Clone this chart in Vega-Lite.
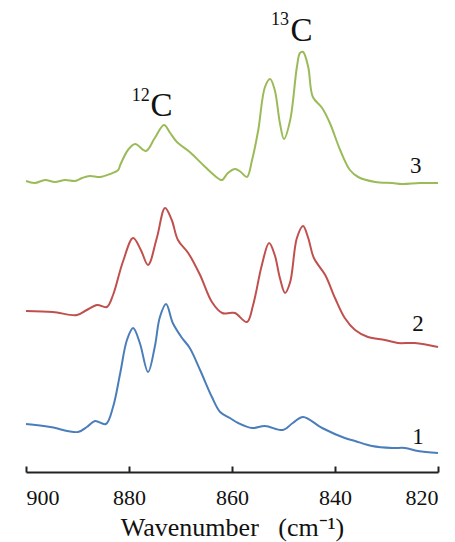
{
  "$schema": "https://vega.github.io/schema/vega-lite/v6.json",
  "width": 412,
  "height": 472,
  "autosize": {"type": "none"},
  "padding": {"left": 26, "top": 0, "right": 17, "bottom": 70},
  "background": "white",
  "config": {
    "view": {"stroke": null},
    "font": "Liberation Serif, Times New Roman, serif",
    "axis": {"labelFont": "Liberation Serif, Times New Roman, serif", "titleFont": "Liberation Serif, Times New Roman, serif"},
    "axisX": {"labelFont": "Liberation Serif, Times New Roman, serif", "titleFont": "Liberation Serif, Times New Roman, serif"},
    "text": {"font": "Liberation Serif"}
  },
  "datasets": {
    "spectra": [
      {"wn": 900, "a": 291, "s": "3"}, {"wn": 898.3, "a": 289, "s": "3"}, {"wn": 896.3, "a": 292, "s": "3"}, {"wn": 894.4, "a": 290, "s": "3"}, {"wn": 892.4, "a": 292, "s": "3"}, {"wn": 890.5, "a": 291, "s": "3"}, {"wn": 889.1, "a": 294, "s": "3"}, {"wn": 887.6, "a": 296, "s": "3"}, {"wn": 885.6, "a": 295, "s": "3"}, {"wn": 883.7, "a": 298, "s": "3"}, {"wn": 882.1, "a": 302, "s": "3"}, {"wn": 881.7, "a": 307, "s": "3"}, {"wn": 880.2, "a": 322, "s": "3"}, {"wn": 878.8, "a": 328, "s": "3"}, {"wn": 876.7, "a": 321, "s": "3"}, {"wn": 875.0, "a": 334, "s": "3"}, {"wn": 873.2, "a": 347, "s": "3"}, {"wn": 872.0, "a": 339, "s": "3"}, {"wn": 870.7, "a": 330, "s": "3"}, {"wn": 868.2, "a": 320, "s": "3"}, {"wn": 865.2, "a": 305, "s": "3"}, {"wn": 862.5, "a": 293, "s": "3"}, {"wn": 861.9, "a": 292, "s": "3"}, {"wn": 860.8, "a": 299, "s": "3"}, {"wn": 859.4, "a": 303, "s": "3"}, {"wn": 858.3, "a": 300, "s": "3"}, {"wn": 857.1, "a": 295, "s": "3"}, {"wn": 856.1, "a": 312, "s": "3"}, {"wn": 854.9, "a": 342, "s": "3"}, {"wn": 853.6, "a": 385, "s": "3"}, {"wn": 852.6, "a": 393, "s": "3"}, {"wn": 851.7, "a": 382, "s": "3"}, {"wn": 850.7, "a": 349, "s": "3"}, {"wn": 849.9, "a": 333, "s": "3"}, {"wn": 848.7, "a": 352, "s": "3"}, {"wn": 847.4, "a": 405, "s": "3"}, {"wn": 846.8, "a": 419, "s": "3"}, {"wn": 846.2, "a": 420, "s": "3"}, {"wn": 845.2, "a": 405, "s": "3"}, {"wn": 844.3, "a": 375, "s": "3"}, {"wn": 842.5, "a": 364, "s": "3"}, {"wn": 841.0, "a": 349, "s": "3"}, {"wn": 839.0, "a": 322, "s": "3"}, {"wn": 837.1, "a": 302, "s": "3"}, {"wn": 835.5, "a": 295, "s": "3"}, {"wn": 832.2, "a": 290, "s": "3"}, {"wn": 828.9, "a": 289, "s": "3"}, {"wn": 827.0, "a": 288, "s": "3"}, {"wn": 823.5, "a": 289, "s": "3"}, {"wn": 820, "a": 289, "s": "3"},

      {"wn": 900, "a": 161, "s": "2"}, {"wn": 894.8, "a": 160, "s": "2"}, {"wn": 890.1, "a": 157, "s": "2"}, {"wn": 888.2, "a": 162, "s": "2"}, {"wn": 886.2, "a": 167, "s": "2"}, {"wn": 884.3, "a": 165, "s": "2"}, {"wn": 883.1, "a": 177, "s": "2"}, {"wn": 881.2, "a": 210, "s": "2"}, {"wn": 879.2, "a": 234, "s": "2"}, {"wn": 877.7, "a": 222, "s": "2"}, {"wn": 876.3, "a": 207, "s": "2"}, {"wn": 874.6, "a": 234, "s": "2"}, {"wn": 873.0, "a": 264, "s": "2"}, {"wn": 871.7, "a": 252, "s": "2"}, {"wn": 870.5, "a": 232, "s": "2"}, {"wn": 868.5, "a": 219, "s": "2"}, {"wn": 866.2, "a": 197, "s": "2"}, {"wn": 863.9, "a": 170, "s": "2"}, {"wn": 861.9, "a": 159, "s": "2"}, {"wn": 860.4, "a": 159, "s": "2"}, {"wn": 859.4, "a": 159, "s": "2"}, {"wn": 857.1, "a": 150, "s": "2"}, {"wn": 855.9, "a": 167, "s": "2"}, {"wn": 854.2, "a": 207, "s": "2"}, {"wn": 852.8, "a": 229, "s": "2"}, {"wn": 851.7, "a": 217, "s": "2"}, {"wn": 850.7, "a": 194, "s": "2"}, {"wn": 849.7, "a": 179, "s": "2"}, {"wn": 848.7, "a": 190, "s": "2"}, {"wn": 847.4, "a": 234, "s": "2"}, {"wn": 846.2, "a": 246, "s": "2"}, {"wn": 845.2, "a": 234, "s": "2"}, {"wn": 844.1, "a": 214, "s": "2"}, {"wn": 841.9, "a": 197, "s": "2"}, {"wn": 840.0, "a": 174, "s": "2"}, {"wn": 838.1, "a": 154, "s": "2"}, {"wn": 836.1, "a": 142, "s": "2"}, {"wn": 833.6, "a": 135, "s": "2"}, {"wn": 830.3, "a": 132, "s": "2"}, {"wn": 827.8, "a": 129, "s": "2"}, {"wn": 824.5, "a": 129, "s": "2"}, {"wn": 820, "a": 125, "s": "2"},

      {"wn": 900, "a": 48, "s": "1"}, {"wn": 895.3, "a": 45, "s": "1"}, {"wn": 889.9, "a": 40, "s": "1"}, {"wn": 888.2, "a": 45, "s": "1"}, {"wn": 886.6, "a": 51, "s": "1"}, {"wn": 884.5, "a": 48, "s": "1"}, {"wn": 883.1, "a": 65, "s": "1"}, {"wn": 881.7, "a": 99, "s": "1"}, {"wn": 880.4, "a": 132, "s": "1"}, {"wn": 879.2, "a": 144, "s": "1"}, {"wn": 877.9, "a": 129, "s": "1"}, {"wn": 876.3, "a": 100, "s": "1"}, {"wn": 875.0, "a": 125, "s": "1"}, {"wn": 874.0, "a": 155, "s": "1"}, {"wn": 872.8, "a": 168, "s": "1"}, {"wn": 871.5, "a": 149, "s": "1"}, {"wn": 869.7, "a": 134, "s": "1"}, {"wn": 868.2, "a": 124, "s": "1"}, {"wn": 866.2, "a": 102, "s": "1"}, {"wn": 863.9, "a": 75, "s": "1"}, {"wn": 862.3, "a": 60, "s": "1"}, {"wn": 860.4, "a": 54, "s": "1"}, {"wn": 858.8, "a": 49, "s": "1"}, {"wn": 856.1, "a": 44, "s": "1"}, {"wn": 853.6, "a": 46, "s": "1"}, {"wn": 850.1, "a": 42, "s": "1"}, {"wn": 848.2, "a": 49, "s": "1"}, {"wn": 846.2, "a": 55, "s": "1"}, {"wn": 842.5, "a": 44, "s": "1"}, {"wn": 838.1, "a": 34, "s": "1"}, {"wn": 836.1, "a": 31, "s": "1"}, {"wn": 832.8, "a": 26, "s": "1"}, {"wn": 828.9, "a": 24, "s": "1"}, {"wn": 826.4, "a": 24, "s": "1"}, {"wn": 823.9, "a": 21, "s": "1"}, {"wn": 820, "a": 19, "s": "1"}
    ],
    "numbers": [
      {"wn": 824.3, "a": 299, "t": "3"},
      {"wn": 823.9, "a": 141, "t": "2"},
      {"wn": 823.9, "a": 28, "t": "1"}
    ],
    "letters": [
      {"wn": 873.7, "a": 356, "t": "C"},
      {"wn": 846.5, "a": 431, "t": "C"}
    ],
    "sups": [
      {"wn": 877.7, "a": 371, "t": "12"},
      {"wn": 850.7, "a": 447, "t": "13"}
    ]
  },
  "layer": [
    {
      "data": {"name": "spectra"},
      "mark": {"type": "line", "interpolate": "catmull-rom", "strokeWidth": 2},
      "encoding": {
        "x": {
          "field": "wn", "type": "quantitative",
          "scale": {"domain": [820, 900], "reverse": true, "nice": false},
          "axis": {
            "values": [900, 880, 860, 840, 820],
            "title": "Wavenumber\u00a0\u00a0\u00a0(cm⁻¹)",
            "grid": false,
            "domainColor": "#222",
            "domainWidth": 2,
            "tickColor": "#222",
            "tickWidth": 2,
            "tickSize": -6,
            "labelPadding": 21,
            "labelFont": "Liberation Serif, Times New Roman, serif",
            "labelFontSize": 22,
            "labelColor": "#111",
            "titleFont": "Liberation Serif, Times New Roman, serif",
            "titleFontSize": 26,
            "titleFontWeight": "normal",
            "titleColor": "#111",
            "titlePadding": 6
          }
        },
        "y": {
          "field": "a", "type": "quantitative",
          "scale": {"domain": [0, 472], "nice": false, "zero": false},
          "axis": null
        },
        "color": {
          "field": "s", "type": "nominal",
          "scale": {"domain": ["1", "2", "3"], "range": ["#4a7ebb", "#c0504d", "#9bbb59"]},
          "legend": null
        },
        "detail": {"field": "s"}
      }
    },
    {
      "data": {"name": "numbers"},
      "mark": {"type": "text", "font": "Liberation Serif", "fontSize": 23, "baseline": "alphabetic", "align": "center", "color": "#111"},
      "encoding": {
        "x": {"field": "wn", "type": "quantitative"},
        "y": {"field": "a", "type": "quantitative"},
        "text": {"field": "t"}
      }
    },
    {
      "data": {"name": "letters"},
      "mark": {"type": "text", "font": "Liberation Serif", "fontSize": 33, "baseline": "alphabetic", "align": "center", "color": "#111"},
      "encoding": {
        "x": {"field": "wn", "type": "quantitative"},
        "y": {"field": "a", "type": "quantitative"},
        "text": {"field": "t"}
      }
    },
    {
      "data": {"name": "sups"},
      "mark": {"type": "text", "font": "Liberation Serif", "fontSize": 18, "baseline": "alphabetic", "align": "center", "color": "#111"},
      "encoding": {
        "x": {"field": "wn", "type": "quantitative"},
        "y": {"field": "a", "type": "quantitative"},
        "text": {"field": "t"}
      }
    }
  ]
}
